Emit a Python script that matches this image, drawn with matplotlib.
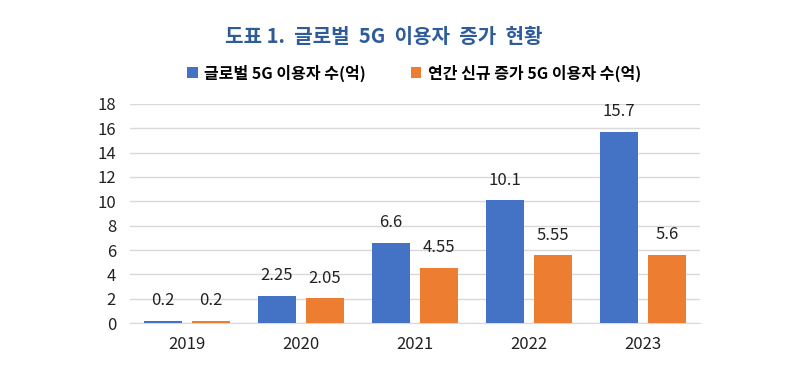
import matplotlib.pyplot as plt
import numpy as np

plt.rcParams['font.family'] = ['Noto Sans CJK KR', 'DejaVu Sans']

years = ["2019", "2020", "2021", "2022", "2023"]
total_users = [0.2, 2.25, 6.6, 10.1, 15.7]
new_users = [0.2, 2.05, 4.55, 5.55, 5.6]
total_labels = ["0.2", "2.25", "6.6", "10.1", "15.7"]
new_labels = ["0.2", "2.05", "4.55", "5.55", "5.6"]
series_names = ["글로벌 5G 이용자 수(억)", "연간 신규 증가 5G 이용자 수(억)"]
title = "도표 1.  글로벌  5G  이용자  증가  현황"

BLUE = "#4472C4"
ORANGE = "#ED7D31"

fig = plt.figure(figsize=(8.12, 3.88), dpi=100)
fig.patch.set_facecolor("white")
ax = fig.add_axes([0.160, 0.1675, 0.702, 0.5645])

x = np.arange(len(years))
w = 0.333
off = 0.21
b1 = ax.bar(x - off, total_users, w, color=BLUE, label=series_names[0], zorder=3)
b2 = ax.bar(x + off, new_users, w, color=ORANGE, label=series_names[1], zorder=3)

for bars, labels in ((b1, total_labels), (b2, new_labels)):
    for rect, lab in zip(bars, labels):
        ax.text(rect.get_x() + rect.get_width() / 2, rect.get_height() + 0.95, lab,
                ha="center", va="bottom", fontsize=12, color="#222222")

ax.set_xlim(-0.5, len(years) - 0.5)
ax.set_ylim(0, 18)
ax.set_yticks(range(0, 19, 2))
ax.set_xticks(x)
ax.set_xticklabels(years)
ax.tick_params(axis="both", length=0, labelsize=12, colors="#222222")
ax.tick_params(axis="x", pad=9)
ax.tick_params(axis="y", pad=10)
ax.grid(axis="y", color="#D9D9D9", linewidth=1, zorder=0)
for s in ("top", "right", "left"):
    ax.spines[s].set_visible(False)
ax.spines["bottom"].set_color("#D9D9D9")

fig.text(0.473, 0.905, title, ha="center", va="center", fontsize=14.5,
         fontweight="bold", color="#2E5C9A")
fig.legend(handles=[b1, b2], loc="center", bbox_to_anchor=(0.51, 0.812), ncol=2,
           frameon=False, handlelength=0.65, handleheight=0.65,
           handletextpad=0.4, columnspacing=2.8, prop={'weight': 'bold', 'size': 11.5})

fig.savefig("out.png", dpi=100, facecolor="white")
